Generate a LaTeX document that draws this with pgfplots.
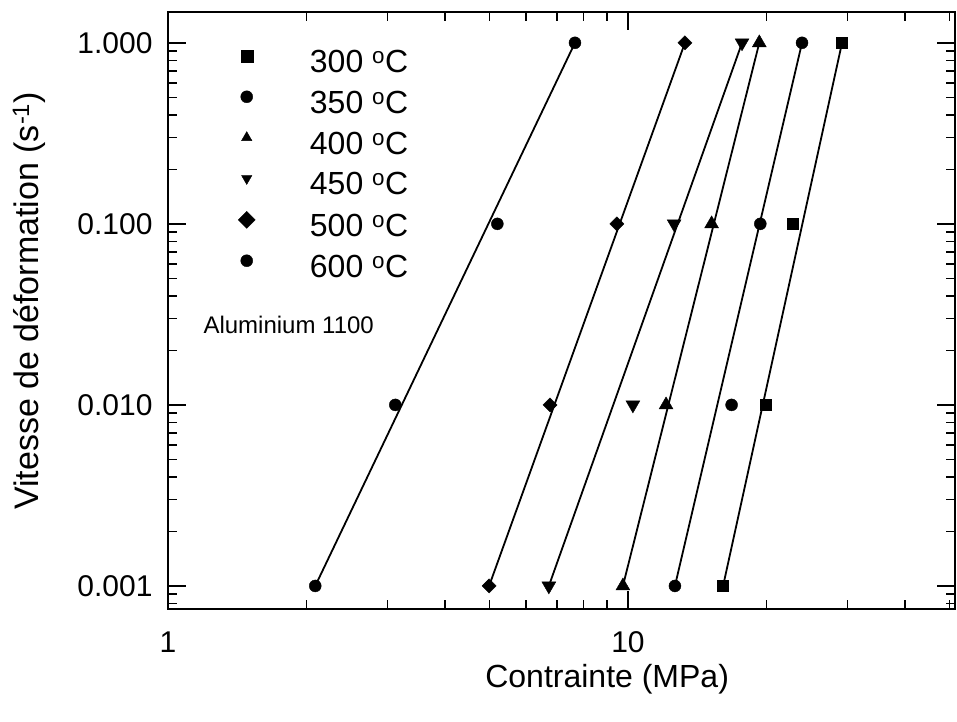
\documentclass[border=0pt]{standalone}
\usepackage{fontspec}
\setmainfont{Liberation Sans}
\usepackage{pgfplots}
\pgfplotsset{compat=1.18}
\begin{document}
\begin{tikzpicture}
\begin{axis}[
  name=ax,
  scale only axis,
  width=787pt, height=597pt,
  xmode=log, ymode=log,
  xmin=1, xmax=51.4,
  ymin=0.000746, ymax=1.48,
  axis line style={line width=2.4pt},
  every tick/.style={black, line width=1.6pt},
  major tick length=18pt, minor tick length=9pt,
  tick align=inside,
  xtick={1,10}, xticklabels={1,10},
  ytick={0.001,0.01,0.1,1}, yticklabels={0.001,0.010,0.100,1.000},
  minor xtick={2,3,4,5,6,7,8,9,20,30,40,50},
  minor ytick={0.0008,0.0009,0.002,0.003,0.004,0.005,0.006,0.007,0.008,0.009,0.02,0.03,0.04,0.05,0.06,0.07,0.08,0.09,0.2,0.3,0.4,0.5,0.6,0.7,0.8,0.9},
  tick label style={font=\fontsize{30}{36}\selectfont},
  xticklabel style={yshift=-19pt},
  yticklabel style={xshift=-12pt},
  xlabel={Contrainte (MPa)},
  ylabel={Vitesse de déformation (s\textsuperscript{-1})},
  every axis x label/.style={at={(axis description cs:0.558,-0.132)}, anchor=base, font=\fontsize{32}{38}\selectfont},
  every axis y label/.style={at={(axis description cs:-0.165,0.516)}, rotate=90, anchor=base, font=\fontsize{34}{40}\selectfont},
  legend style={draw=none, fill=none, inner sep=0pt, at={(axis description cs:0.089,0.940)}, anchor=north west,
    font=\fontsize{32}{38}\selectfont, row sep=13pt},
  legend cell align=left,
  legend image code/.code={\draw[#1, mark size=6pt] plot coordinates {(0pt,6pt)}; \path (-6pt,0pt) (61pt,0pt);},
]
% fitted lines
\addplot[black, line width=1.8pt, forget plot] coordinates {(16.1,0.001) (29.2,1)};
\addplot[black, line width=1.8pt, forget plot] coordinates {(12.65,0.001) (23.9,1)};
\addplot[black, line width=1.8pt, forget plot] coordinates {(9.75,0.001) (19.3,1)};
\addplot[black, line width=1.8pt, forget plot] coordinates {(6.73,0.001) (17.7,1)};
\addplot[black, line width=1.8pt, forget plot] coordinates {(4.99,0.001) (13.3,1)};
\addplot[black, line width=1.8pt, forget plot] coordinates {(2.09,0.001) (7.67,1)};
% data
\addplot[only marks, mark=square*, mark size=5.5pt, black] coordinates {(16.1,0.001) (19.95,0.01) (22.8,0.1) (29.2,1)};
\addlegendentry{300 \textsuperscript{o}C}
\addplot[only marks, mark=*, mark size=6pt, black] coordinates {(12.65,0.001) (16.8,0.01) (19.4,0.1) (23.9,1)};
\addlegendentry{350 \textsuperscript{o}C}
\addplot[only marks, mark=triangle*, mark size=8pt, black] coordinates {(9.75,0.001) (12.1,0.01) (15.2,0.1) (19.3,1)};
\addlegendentry{400 \textsuperscript{o}C}
\addplot[only marks, mark=triangle*, mark size=8pt, mark options={rotate=180}, black] coordinates {(6.73,0.001) (10.25,0.01) (12.6,0.1) (17.7,1)};
\addlegendentry{450 \textsuperscript{o}C}
\addplot[only marks, mark=square*, mark size=5pt, mark options={rotate=45}, black] coordinates {(4.99,0.001) (6.77,0.01) (9.46,0.1) (13.3,1)};
\addlegendentry{500 \textsuperscript{o}C}
\addplot[only marks, mark=*, mark size=6pt, black] coordinates {(2.09,0.001) (3.12,0.01) (5.2,0.1) (7.67,1)};
\addlegendentry{600 \textsuperscript{o}C}
\node[anchor=base west, font=\fontsize{24}{28}\selectfont] at (rel axis cs:0.0407,0.4623) {Aluminium 1100};
\end{axis}
\pgfresetboundingbox
\path ([xshift=-168pt,yshift=-113pt]ax.south west) rectangle ([xshift=2pt,yshift=12pt]ax.north east);
\end{tikzpicture}
\end{document}
